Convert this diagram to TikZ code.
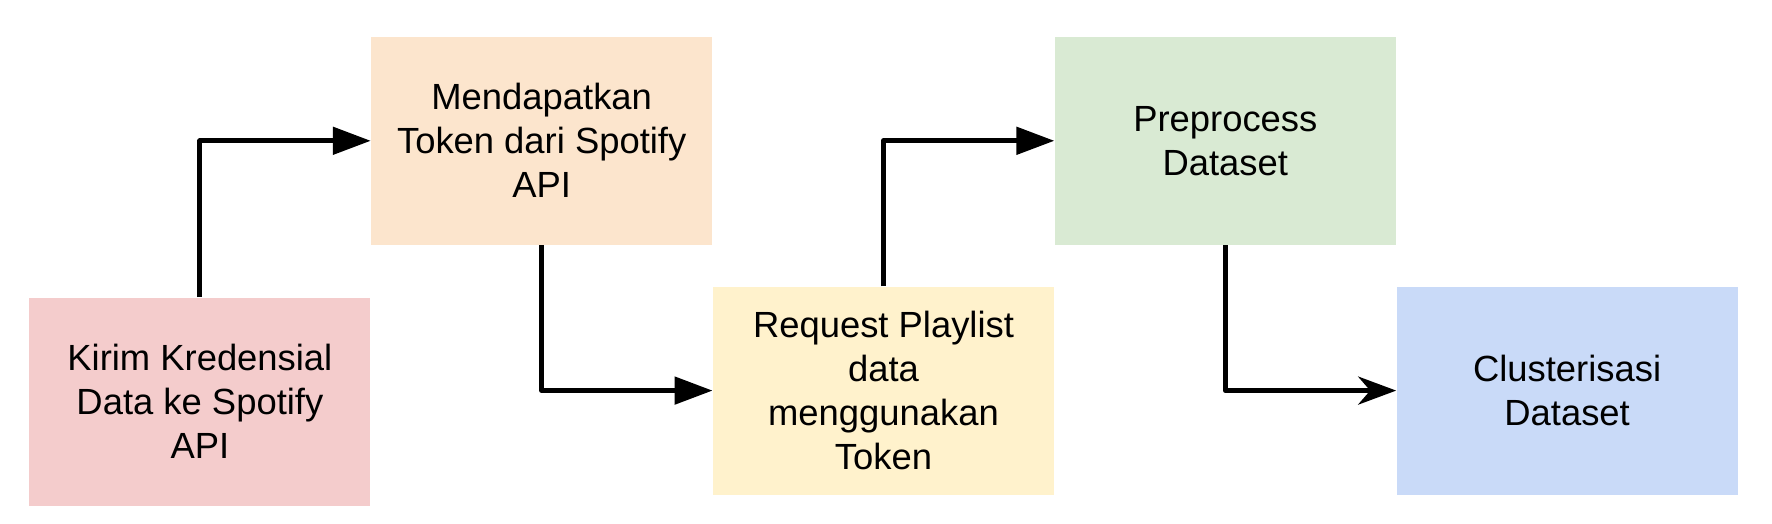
\documentclass[tikz,border=0pt]{standalone}
\usepackage{fontspec}
\setmainfont{Liberation Sans}
\usepackage{tikz}
\usetikzlibrary{positioning,arrows.meta}

\definecolor{boxred}{HTML}{F4CCCC}
\definecolor{boxorange}{HTML}{FCE5CD}
\definecolor{boxyellow}{HTML}{FFF2CC}
\definecolor{boxgreen}{HTML}{D9EAD3}
\definecolor{boxblue}{HTML}{C9DAF8}

\begin{document}
\begin{tikzpicture}[stepbox/.style={rectangle,minimum width=170.5pt,minimum height=104pt,inner sep=0pt,align=center,font=\fontsize{18.2}{22}\selectfont},
    elbow/.style={to path={|- (\tikztotarget) \tikztonodes}}]
        \useasboundingbox (0,0) rectangle (886pt,262pt);

        \node[stepbox,fill=boxred,anchor=south west] (1) at (14.5pt,9pt) {Kirim Kredensial\\Data ke Spotify\\API};
        \node[stepbox,fill=boxorange] (2) [above right=26pt and 0pt of 1] {Mendapatkan\\Token dari Spotify\\API};
        \node[stepbox,fill=boxyellow] (3) [below right=20.5pt and 0pt of 2] {Request Playlist\\data\\menggunakan\\Token};
        \node[stepbox,fill=boxgreen] (4) [above right=20.5pt and 0pt of 3] {Preprocess\\Dataset};
        \node[stepbox,fill=boxblue] (5) [below right=20.5pt and 0pt of 4] {Clusterisasi\\Dataset};

        \path[draw,line width=2.5pt,line join=round,-{Triangle[length=19pt,width=13.5pt]}]
        (1) edge[elbow] node {} (2)
        (2) edge[elbow] node {} (3)
        (3) edge[elbow] node {} (4)
        (4) edge[elbow,-{Stealth[length=19pt,width=14pt,inset=6pt]}] node {} (5);
    \end{tikzpicture}
\end{document}
